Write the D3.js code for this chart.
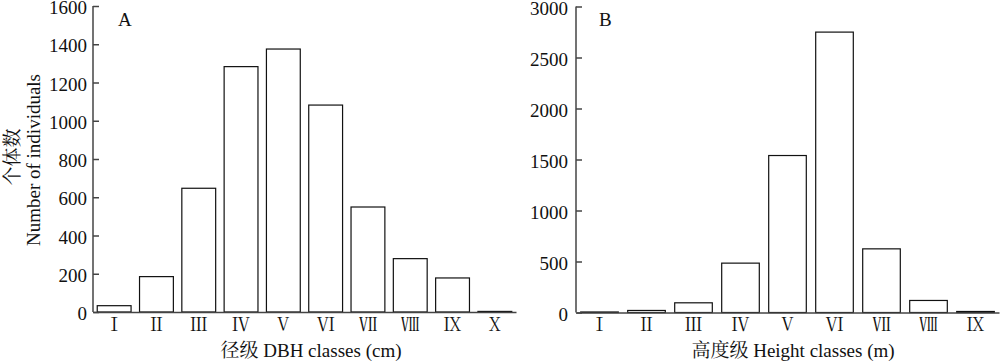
<!DOCTYPE html>
<html><head><meta charset="utf-8">
<script src="https://cdn.jsdelivr.net/npm/d3@7"></script>
<style>
body{margin:0;background:#fff;}
</style></head>
<body><svg id="c" width="1000" height="363"></svg>
<script>
const dbhClasses = ["Ⅰ","Ⅱ","Ⅲ","Ⅳ","Ⅴ","Ⅵ","Ⅶ","Ⅷ","Ⅸ","Ⅹ"];
const dbhCounts = [33, 185, 647, 1283, 1375, 1082, 549, 279, 178, 3];
const dbhTicks = [0,200,400,600,800,1000,1200,1400,1600];
const heightClasses = ["Ⅰ","Ⅱ","Ⅲ","Ⅳ","Ⅴ","Ⅵ","Ⅶ","Ⅷ","Ⅸ"];
const heightCounts = [5, 20, 95, 484, 1539, 2749, 624, 118, 10];
const heightTicks = [0,500,1000,1500,2000,2500,3000];

const FONT = "'Liberation Serif', 'Noto Serif CJK SC', serif";
const svg = d3.select("#c");

function panel(opt){
  const x = d3.scaleBand().domain(opt.cats).range([opt.x0, opt.x1]).paddingInner(0.2).paddingOuter(0.1);
  const y = d3.scaleLinear().domain([0, opt.max]).range([opt.y0, opt.y1]);
  const g = svg.append("g");
  g.selectAll("rect.bar").data(opt.vals).join("rect")
    .attr("x",(d,i)=>x(opt.cats[i])).attr("width",x.bandwidth())
    .attr("y",d=>y(d)).attr("height",d=>Math.max(0.5,y(0)-y(d)))
    .attr("fill","#fff").attr("stroke","#111").attr("stroke-width",1.2);
  const ya = g.append("g").attr("transform",`translate(${opt.x0},0)`)
    .call(d3.axisLeft(y).tickValues(opt.ticks).tickSize(-6).tickPadding(opt.pad).tickFormat(d3.format("d")));
  ya.attr("font-family",FONT).attr("font-size",19);
  ya.select(".domain").attr("stroke","#444").attr("stroke-width",1.5).attr("d",`M0,${opt.y0}V${opt.y1}`);
  ya.selectAll(".tick line").attr("stroke","#444").attr("stroke-width",1.5);
  ya.selectAll(".tick text").attr("fill","#111").attr("dy","0.4em");
  const xa = g.append("g").attr("transform",`translate(0,${opt.y0})`)
    .call(d3.axisBottom(x).tickSize(0).tickPadding(6));
  xa.attr("font-family","'Noto Serif CJK SC', serif").attr("font-size",18);
  xa.select(".domain").attr("stroke","#444").attr("stroke-width",1.5);
  xa.selectAll(".tick text").attr("fill","#111");
  g.append("text").attr("x",opt.lx).attr("y",26).attr("font-family",FONT).attr("font-size",19).attr("fill","#111").text(opt.letter);
  g.append("text").attr("x",opt.tx).attr("y",357).attr("text-anchor","middle").attr("font-family",FONT).attr("font-size",19).attr("fill","#111").text(opt.title);
}

panel({cats:dbhClasses, vals:dbhCounts, ticks:dbhTicks, max:1600, x0:93, x1:516, y0:312, y1:6, pad:6, lx:118, letter:"A", tx:311, title:"径级 DBH classes (cm)"});
panel({cats:heightClasses, vals:heightCounts, ticks:heightTicks, max:3000, x0:576, x1:999, y0:312.5, y1:6.5, pad:8, lx:599, letter:"B", tx:793, title:"高度级 Height classes (m)"});

svg.append("text").attr("transform","translate(12,157) rotate(-90)").attr("text-anchor","middle").attr("dominant-baseline","central").attr("font-family",FONT).attr("font-size",19).attr("fill","#111").text("个体数");
svg.append("text").attr("transform","translate(33,160) rotate(-90)").attr("text-anchor","middle").attr("dominant-baseline","central").attr("font-family",FONT).attr("font-size",19).attr("fill","#111").text("Number of individuals");
</script></body></html>
